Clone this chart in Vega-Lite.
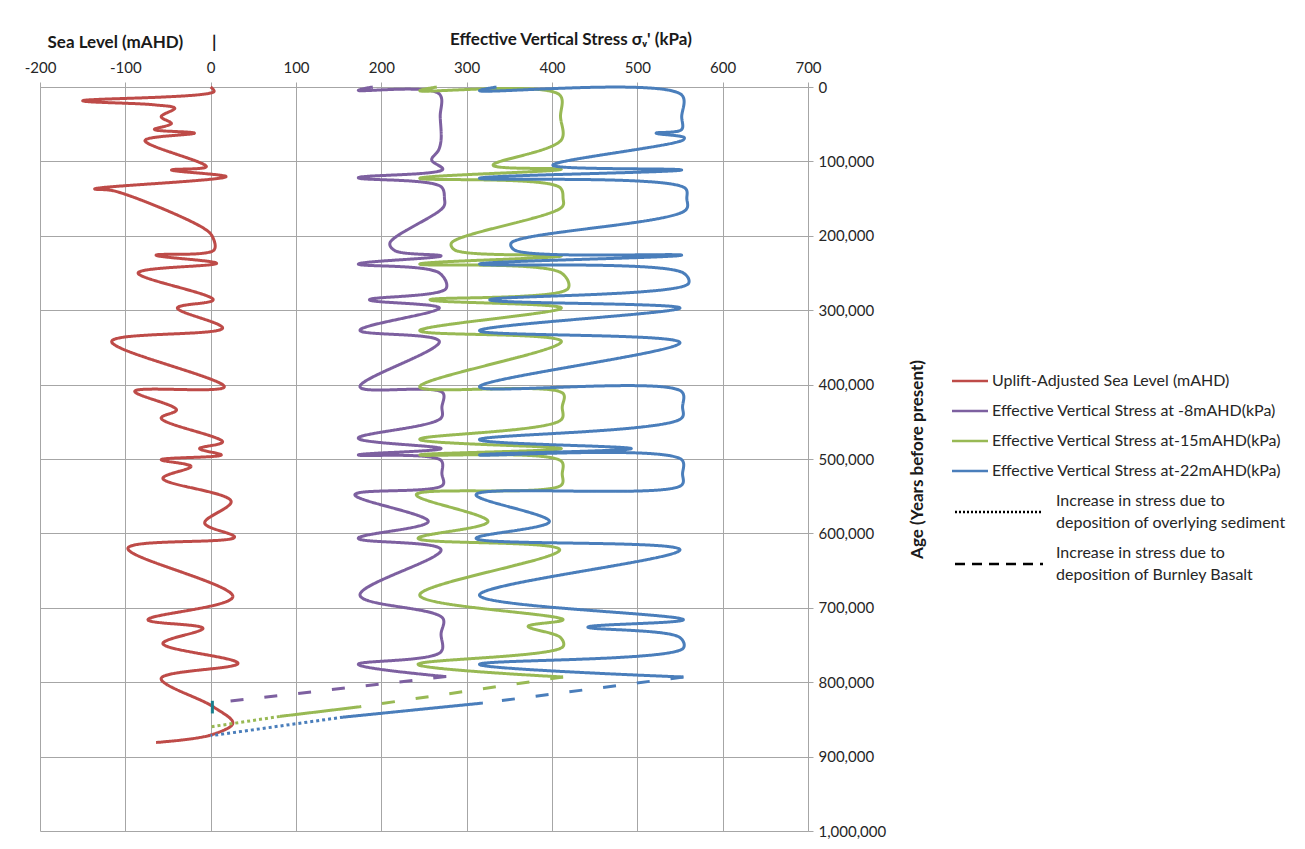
{
  "$schema": "https://vega.github.io/schema/vega-lite/v6.json",
  "width": 768,
  "height": 744,
  "autosize": "none",
  "padding": {"left": 40, "top": 87, "right": 497, "bottom": 18},
  "background": "white",
  "config": {
    "font": "Lato",
    "view": {"stroke": null},
    "axis": {"labelFont": "Lato", "titleFont": "Lato"},
    "legend": {"labelFont": "Lato"}
  },
  "title": {
    "text": "Effective Vertical Stress \u03c3\u1d65' (kPa)",
    "anchor": "start",
    "frame": "group",
    "dx": 410,
    "dy": 16,
    "offset": 0,
    "fontSize": 17,
    "font": "Lato",
    "fontWeight": "bold",
    "color": "#1a1a1a"
  },
  "encoding": {
    "x": {
      "field": "v",
      "type": "quantitative",
      "scale": {"domain": [-200, 700], "nice": false, "zero": false},
      "axis": {
        "orient": "top",
        "values": [-200, -100, 0, 100, 200, 300, 400, 500, 600, 700],
        "labelExpr": "'' + datum.value",
        "labelFlush": false,
        "labelOverlap": false,
        "grid": true,
        "gridColor": "#a6a6a6",
        "domainColor": "#a6a6a6",
        "tickColor": "#a6a6a6",
        "tickSize": 5,
        "labelFontSize": 15,
        "labelColor": "#262626",
        "labelPadding": 7,
        "title": "Sea Level (mAHD)\u00a0\u00a0\u00a0\u00a0\u00a0\u00a0\u00a0|",
        "titleX": 7,
        "titleY": -45,
        "titleAnchor": "start",
        "titleAlign": "left",
        "titleBaseline": "middle",
        "titleFontSize": 17,
        "titleFontWeight": "bold",
        "titleColor": "#1a1a1a"
      }
    },
    "y": {
      "field": "a",
      "type": "quantitative",
      "scale": {"domain": [0, 1000000], "reverse": true, "nice": false},
      "axis": {
        "orient": "right",
        "values": [0, 100000, 200000, 300000, 400000, 500000, 600000, 700000, 800000, 900000, 1000000],
        "format": ",d",
        "labelFlush": false,
        "labelOverlap": false,
        "grid": true,
        "gridColor": "#a6a6a6",
        "domainColor": "#a6a6a6",
        "tickColor": "#a6a6a6",
        "tickSize": 5,
        "labelFontSize": 15,
        "labelColor": "#262626",
        "labelPadding": 5,
        "title": "Age (Years before present)",
        "titleAngle": 270,
        "titlePadding": 41,
        "titleFontSize": 17,
        "titleFontWeight": "bold",
        "titleColor": "#1a1a1a"
      }
    }
  },
  "layer": [
    {
      "data": {
        "values": [
          {"s":"SL","g":"R","st":"solid","a":0,"v":0},
          {"s":"SL","g":"R","st":"solid","a":6000,"v":4},
          {"s":"SL","g":"R","st":"solid","a":18500,"v":-150},
          {"s":"SL","g":"R","st":"solid","a":24000,"v":-66},
          {"s":"SL","g":"R","st":"solid","a":28600,"v":-42},
          {"s":"SL","g":"R","st":"solid","a":40000,"v":-58},
          {"s":"SL","g":"R","st":"solid","a":49000,"v":-46},
          {"s":"SL","g":"R","st":"solid","a":57000,"v":-66},
          {"s":"SL","g":"R","st":"solid","a":62000,"v":-19},
          {"s":"SL","g":"R","st":"solid","a":72000,"v":-77},
          {"s":"SL","g":"R","st":"solid","a":107000,"v":-5},
          {"s":"SL","g":"R","st":"solid","a":111500,"v":-46},
          {"s":"SL","g":"R","st":"solid","a":120500,"v":18},
          {"s":"SL","g":"R","st":"solid","a":137000,"v":-136},
          {"s":"SL","g":"R","st":"solid","a":140000,"v":-112},
          {"s":"SL","g":"R","st":"solid","a":190000,"v":-8},
          {"s":"SL","g":"R","st":"solid","a":201000,"v":2},
          {"s":"SL","g":"R","st":"solid","a":219000,"v":4},
          {"s":"SL","g":"R","st":"solid","a":226000,"v":-64},
          {"s":"SL","g":"R","st":"solid","a":237000,"v":7},
          {"s":"SL","g":"R","st":"solid","a":250000,"v":-85},
          {"s":"SL","g":"R","st":"solid","a":286000,"v":3},
          {"s":"SL","g":"R","st":"solid","a":297000,"v":-39},
          {"s":"SL","g":"R","st":"solid","a":324000,"v":14},
          {"s":"SL","g":"R","st":"solid","a":342000,"v":-116},
          {"s":"SL","g":"R","st":"solid","a":403000,"v":16},
          {"s":"SL","g":"R","st":"solid","a":409000,"v":-89},
          {"s":"SL","g":"R","st":"solid","a":434000,"v":-40},
          {"s":"SL","g":"R","st":"solid","a":445000,"v":-58},
          {"s":"SL","g":"R","st":"solid","a":477000,"v":14},
          {"s":"SL","g":"R","st":"solid","a":486000,"v":-13},
          {"s":"SL","g":"R","st":"solid","a":494600,"v":12.5},
          {"s":"SL","g":"R","st":"solid","a":501000,"v":-58},
          {"s":"SL","g":"R","st":"solid","a":510000,"v":-23},
          {"s":"SL","g":"R","st":"solid","a":526000,"v":-56},
          {"s":"SL","g":"R","st":"solid","a":557000,"v":24},
          {"s":"SL","g":"R","st":"solid","a":586000,"v":-7},
          {"s":"SL","g":"R","st":"solid","a":605000,"v":28},
          {"s":"SL","g":"R","st":"solid","a":620000,"v":-97},
          {"s":"SL","g":"R","st":"solid","a":685000,"v":26},
          {"s":"SL","g":"R","st":"solid","a":716000,"v":-73.5},
          {"s":"SL","g":"R","st":"solid","a":727600,"v":-9},
          {"s":"SL","g":"R","st":"solid","a":748000,"v":-56},
          {"s":"SL","g":"R","st":"solid","a":774600,"v":32},
          {"s":"SL","g":"R","st":"solid","a":795000,"v":-58},
          {"s":"SL","g":"R","st":"solid","a":833000,"v":3},
          {"s":"SL","g":"R","st":"solid","a":855000,"v":26},
          {"s":"SL","g":"R","st":"solid","a":871000,"v":0},
          {"s":"SL","g":"R","st":"solid","a":881000,"v":-64},

          {"s":"S8","g":"P","st":"solid","a":0,"v":190},
          {"s":"S8","g":"P","st":"solid","a":4500,"v":173},
          {"s":"S8","g":"P","st":"solid","a":9400,"v":268},
          {"s":"S8","g":"P","st":"solid","a":40000,"v":269},
          {"s":"S8","g":"P","st":"solid","a":71000,"v":270},
          {"s":"S8","g":"P","st":"solid","a":85000,"v":267},
          {"s":"S8","g":"P","st":"solid","a":98000,"v":259},
          {"s":"S8","g":"P","st":"solid","a":110600,"v":272},
          {"s":"S8","g":"P","st":"solid","a":122000,"v":173},
          {"s":"S8","g":"P","st":"solid","a":134000,"v":270},
          {"s":"S8","g":"P","st":"solid","a":150000,"v":274},
          {"s":"S8","g":"P","st":"solid","a":161000,"v":273},
          {"s":"S8","g":"P","st":"solid","a":210000,"v":210},
          {"s":"S8","g":"P","st":"solid","a":220000,"v":216},
          {"s":"S8","g":"P","st":"solid","a":227000,"v":270},
          {"s":"S8","g":"P","st":"solid","a":238000,"v":173},
          {"s":"S8","g":"P","st":"solid","a":250000,"v":268},
          {"s":"S8","g":"P","st":"solid","a":270600,"v":276},
          {"s":"S8","g":"P","st":"solid","a":286000,"v":186},
          {"s":"S8","g":"P","st":"solid","a":297000,"v":268},
          {"s":"S8","g":"P","st":"solid","a":327000,"v":175},
          {"s":"S8","g":"P","st":"solid","a":342000,"v":268},
          {"s":"S8","g":"P","st":"solid","a":403000,"v":175},
          {"s":"S8","g":"P","st":"solid","a":411000,"v":272},
          {"s":"S8","g":"P","st":"solid","a":430000,"v":271},
          {"s":"S8","g":"P","st":"solid","a":445000,"v":270},
          {"s":"S8","g":"P","st":"solid","a":472000,"v":173},
          {"s":"S8","g":"P","st":"solid","a":486000,"v":270},
          {"s":"S8","g":"P","st":"solid","a":494600,"v":173},
          {"s":"S8","g":"P","st":"solid","a":502000,"v":270},
          {"s":"S8","g":"P","st":"solid","a":520000,"v":271},
          {"s":"S8","g":"P","st":"solid","a":535000,"v":272},
          {"s":"S8","g":"P","st":"solid","a":548000,"v":169},
          {"s":"S8","g":"P","st":"solid","a":584000,"v":255},
          {"s":"S8","g":"P","st":"solid","a":606600,"v":173},
          {"s":"S8","g":"P","st":"solid","a":622000,"v":270},
          {"s":"S8","g":"P","st":"solid","a":683000,"v":175},
          {"s":"S8","g":"P","st":"solid","a":714000,"v":272},
          {"s":"S8","g":"P","st":"solid","a":735000,"v":270},
          {"s":"S8","g":"P","st":"solid","a":759000,"v":270},
          {"s":"S8","g":"P","st":"solid","a":776000,"v":173},
          {"s":"S8","g":"P","st":"solid","a":792500,"v":276},

          {"s":"S15","g":"G","st":"solid","a":0,"v":265},
          {"s":"S15","g":"G","st":"solid","a":5000,"v":245},
          {"s":"S15","g":"G","st":"solid","a":10700,"v":409},
          {"s":"S15","g":"G","st":"solid","a":40000,"v":410},
          {"s":"S15","g":"G","st":"solid","a":71000,"v":411},
          {"s":"S15","g":"G","st":"solid","a":105000,"v":331},
          {"s":"S15","g":"G","st":"solid","a":110600,"v":411},
          {"s":"S15","g":"G","st":"solid","a":122700,"v":245},
          {"s":"S15","g":"G","st":"solid","a":134800,"v":409},
          {"s":"S15","g":"G","st":"solid","a":150000,"v":413},
          {"s":"S15","g":"G","st":"solid","a":161000,"v":412},
          {"s":"S15","g":"G","st":"solid","a":210000,"v":282},
          {"s":"S15","g":"G","st":"solid","a":219000,"v":286},
          {"s":"S15","g":"G","st":"solid","a":227000,"v":411},
          {"s":"S15","g":"G","st":"solid","a":238000,"v":245},
          {"s":"S15","g":"G","st":"solid","a":250000,"v":411},
          {"s":"S15","g":"G","st":"solid","a":270600,"v":419},
          {"s":"S15","g":"G","st":"solid","a":286000,"v":257},
          {"s":"S15","g":"G","st":"solid","a":297000,"v":411},
          {"s":"S15","g":"G","st":"solid","a":327500,"v":245},
          {"s":"S15","g":"G","st":"solid","a":342000,"v":411},
          {"s":"S15","g":"G","st":"solid","a":403000,"v":245},
          {"s":"S15","g":"G","st":"solid","a":412000,"v":413},
          {"s":"S15","g":"G","st":"solid","a":430000,"v":412},
          {"s":"S15","g":"G","st":"solid","a":447000,"v":411},
          {"s":"S15","g":"G","st":"solid","a":473500,"v":245},
          {"s":"S15","g":"G","st":"solid","a":486000,"v":411},
          {"s":"S15","g":"G","st":"solid","a":494600,"v":245},
          {"s":"S15","g":"G","st":"solid","a":503000,"v":411},
          {"s":"S15","g":"G","st":"solid","a":520000,"v":412},
          {"s":"S15","g":"G","st":"solid","a":535000,"v":411},
          {"s":"S15","g":"G","st":"solid","a":548000,"v":241},
          {"s":"S15","g":"G","st":"solid","a":584000,"v":325},
          {"s":"S15","g":"G","st":"solid","a":606600,"v":243},
          {"s":"S15","g":"G","st":"solid","a":622000,"v":409},
          {"s":"S15","g":"G","st":"solid","a":683000,"v":245},
          {"s":"S15","g":"G","st":"solid","a":716000,"v":413},
          {"s":"S15","g":"G","st":"solid","a":725000,"v":372},
          {"s":"S15","g":"G","st":"solid","a":740000,"v":410},
          {"s":"S15","g":"G","st":"solid","a":752000,"v":413},
          {"s":"S15","g":"G","st":"solid","a":776000,"v":243},
          {"s":"S15","g":"G","st":"solid","a":793000,"v":413},

          {"s":"S22","g":"B","st":"solid","a":0,"v":335},
          {"s":"S22","g":"B","st":"solid","a":5000,"v":315},
          {"s":"S22","g":"B","st":"solid","a":10700,"v":552},
          {"s":"S22","g":"B","st":"solid","a":40000,"v":552},
          {"s":"S22","g":"B","st":"solid","a":57000,"v":552},
          {"s":"S22","g":"B","st":"solid","a":62000,"v":522},
          {"s":"S22","g":"B","st":"solid","a":68000,"v":555},
          {"s":"S22","g":"B","st":"solid","a":71000,"v":554},
          {"s":"S22","g":"B","st":"solid","a":105000,"v":401},
          {"s":"S22","g":"B","st":"solid","a":111500,"v":552},
          {"s":"S22","g":"B","st":"solid","a":122700,"v":315},
          {"s":"S22","g":"B","st":"solid","a":136000,"v":556},
          {"s":"S22","g":"B","st":"solid","a":150000,"v":558},
          {"s":"S22","g":"B","st":"solid","a":165000,"v":557},
          {"s":"S22","g":"B","st":"solid","a":210000,"v":352},
          {"s":"S22","g":"B","st":"solid","a":219000,"v":356},
          {"s":"S22","g":"B","st":"solid","a":226000,"v":552},
          {"s":"S22","g":"B","st":"solid","a":238000,"v":315},
          {"s":"S22","g":"B","st":"solid","a":250000,"v":554},
          {"s":"S22","g":"B","st":"solid","a":264000,"v":560},
          {"s":"S22","g":"B","st":"solid","a":286000,"v":327},
          {"s":"S22","g":"B","st":"solid","a":297000,"v":550},
          {"s":"S22","g":"B","st":"solid","a":327500,"v":315},
          {"s":"S22","g":"B","st":"solid","a":343600,"v":550},
          {"s":"S22","g":"B","st":"solid","a":403000,"v":315},
          {"s":"S22","g":"B","st":"solid","a":409500,"v":552},
          {"s":"S22","g":"B","st":"solid","a":430000,"v":553},
          {"s":"S22","g":"B","st":"solid","a":445000,"v":552},
          {"s":"S22","g":"B","st":"solid","a":474000,"v":315},
          {"s":"S22","g":"B","st":"solid","a":486000,"v":493},
          {"s":"S22","g":"B","st":"solid","a":494600,"v":315},
          {"s":"S22","g":"B","st":"solid","a":501000,"v":552},
          {"s":"S22","g":"B","st":"solid","a":520000,"v":553},
          {"s":"S22","g":"B","st":"solid","a":535000,"v":552},
          {"s":"S22","g":"B","st":"solid","a":548000,"v":311},
          {"s":"S22","g":"B","st":"solid","a":584000,"v":397},
          {"s":"S22","g":"B","st":"solid","a":606600,"v":311},
          {"s":"S22","g":"B","st":"solid","a":622000,"v":550},
          {"s":"S22","g":"B","st":"solid","a":683000,"v":315},
          {"s":"S22","g":"B","st":"solid","a":716000,"v":554},
          {"s":"S22","g":"B","st":"solid","a":726000,"v":442},
          {"s":"S22","g":"B","st":"solid","a":740000,"v":550},
          {"s":"S22","g":"B","st":"solid","a":754000,"v":554},
          {"s":"S22","g":"B","st":"solid","a":776000,"v":315},
          {"s":"S22","g":"B","st":"solid","a":793000,"v":554},

          {"s":"S8","g":"Pd","st":"dashed","a":828000,"v":3},
          {"s":"S8","g":"Pd","st":"dashed","a":792500,"v":276},
          {"s":"S15","g":"Gdot","st":"dotted","a":860000,"v":0},
          {"s":"S15","g":"Gdot","st":"dotted","a":846000,"v":81},
          {"s":"S15","g":"Gsol","st":"solid","a":846000,"v":81},
          {"s":"S15","g":"Gsol","st":"solid","a":833000,"v":175},
          {"s":"S15","g":"Gd","st":"dashed","a":833000,"v":175},
          {"s":"S15","g":"Gd","st":"dashed","a":793000,"v":413},
          {"s":"S22","g":"Bdot","st":"dotted","a":872000,"v":0},
          {"s":"S22","g":"Bdot","st":"dotted","a":847000,"v":155},
          {"s":"S22","g":"Bsol","st":"solid","a":847000,"v":155},
          {"s":"S22","g":"Bsol","st":"solid","a":828000,"v":319},
          {"s":"S22","g":"Bd","st":"dashed","a":828000,"v":319},
          {"s":"S22","g":"Bd","st":"dashed","a":793000,"v":554}
        ]
      },
      "mark": {"type": "line", "interpolate": "catmull-rom", "strokeWidth": 3, "clip": false},
      "encoding": {
        "color": {
          "field": "s",
          "type": "nominal",
          "scale": {
            "domain": ["SL", "S8", "S15", "S22", "SED", "BAS"],
            "range": ["#BE4B48", "#7D60A0", "#98B954", "#4A7EBB", "#000000", "#000000"]
          },
          "legend": {
            "orient": "none",
            "legendX": 912,
            "legendY": 284,
            "title": null,
            "padding": 0,
            "labelFontSize": 16,
            "labelColor": "#262626",
            "labelLimit": 400,
            "labelOffset": 4,
            "symbolType": "stroke",
            "symbolStrokeWidth": 2.5,
            "symbolSize": 100,
            "rowPadding": 12,
            "labelExpr": "datum.label == 'SL' ? ['Uplift-Adjusted Sea Level (mAHD)'] : datum.label == 'S8' ? ['Effective Vertical Stress at -8mAHD(kPa)'] : datum.label == 'S15' ? ['Effective Vertical Stress at-15mAHD(kPa)'] : datum.label == 'S22' ? ['Effective Vertical Stress at-22mAHD(kPa)'] : datum.label == 'SED' ? ['Increase in stress due to', 'deposition of overlying sediment'] : ['Increase in stress due to', 'deposition of Burnley Basalt']",
            "encode": {
              "symbols": {
                "update": {
                  "strokeDash": {"signal": "datum.value == 'SED' ? [2, 2] : datum.value == 'BAS' ? [10, 7] : [1, 0]"},
                  "size": {"signal": "(datum.value == 'SED' || datum.value == 'BAS') ? 7744 : 1296"},
                  "x": {"signal": "(datum.value == 'SED' || datum.value == 'BAS') ? 47 : 18"},
                  "y": {"signal": "(datum.value == 'SED' || datum.value == 'BAS') ? 21 : 10"},
                  "strokeWidth": {"value": 2.5}
                }
              },
              "labels": {
                "update": {
                  "x": {"signal": "(datum.value == 'SED' || datum.value == 'BAS') ? 104 : 40"},
                  "y": {"value": 10},
                  "lineHeight": {"value": 22}
                }
              }
            }
          }
        },
        "strokeDash": {
          "field": "st",
          "type": "nominal",
          "scale": {"domain": ["solid", "dotted", "dashed"], "range": [[1, 0], [3, 3], [13, 21]]},
          "legend": null
        },
        "detail": {"field": "g", "type": "nominal"},
        "order": {"field": "a", "type": "quantitative"}
      }
    },
    {
      "data": {"values": [{"v": 2, "a": 825000, "a2": 842000}]},
      "mark": {"type": "rule", "color": "#1B7F8E", "strokeWidth": 3},
      "encoding": {"y2": {"field": "a2"}}
    }
  ]
}
